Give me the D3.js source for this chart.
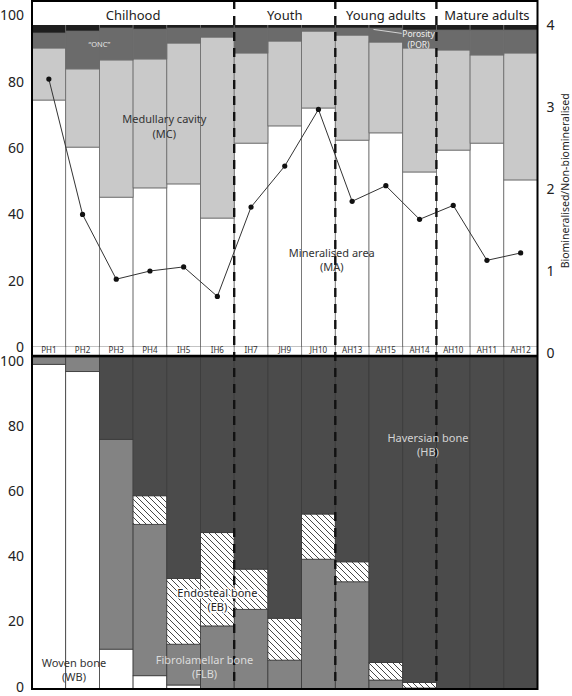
<!DOCTYPE html>
<html><head><meta charset="utf-8">
<script src="https://cdn.jsdelivr.net/npm/d3@7"></script>
<style>body{margin:0;background:#fff}svg{display:block;font-family:"Noto Sans",sans-serif}</style>
</head><body>
<svg id="c" width="572" height="696"></svg>
<script>
// ---- data ----
const categories = ["PH1","PH2","PH3","PH4","IH5","IH6","IH7","JH9","JH10","AH13","AH15","AH14","AH10","AH11","AH12"];
const phaseNames = ["Chilhood","Youth","Young adults","Mature adults"];
const phaseStart = ["PH1","IH7","AH13","AH10"];
const phaseEnd   = ["IH6","JH10","AH14","AH12"];
// top panel (% of cross-section)
const MA  = [74.5,60.3,45.2,48.0,49.2,38.9,61.5,66.7,72.1,62.4,64.6,52.8,59.4,61.5,50.4];
const MC  = [15.7,23.6,41.4,38.9,42.5,54.6,27.2,25.6,23.2,31.7,27.4,37.4,30.2,26.6,38.3];
const ONC = [4.5,11.4,9.6,9.0,4.5,2.7,7.5,3.9,0.9,2.1,4.2,5.4,6.0,7.5,6.9];
const POR = categories.map((c,i)=>100-MA[i]-MC[i]-ONC[i]);
// biomineralised / non-biomineralised ratio
const ratio = [3.34,1.69,0.90,1.00,1.05,0.69,1.78,2.28,2.97,1.85,2.04,1.63,1.80,1.13,1.22];
// bottom panel (% of bone tissue)
const WB  = [97.8,95.6,12.0,4.0,1.2,0,0,0,0,0,0,0,0,0,0];
const FLB = [2.2,4.4,63.2,45.6,12.3,19.0,24.0,8.7,39.1,32.3,2.7,0.3,0,0,0];
const EB  = [0,0,0,8.6,19.8,28.1,12.1,12.6,13.6,6.0,5.3,1.7,0,0,0];
const HB  = categories.map((c,i)=>100-WB[i]-FLB[i]-EB[i]);
const pctTicks = [0,20,40,60,80,100];
const ratioTicks = [0,1,2,3,4];

// ---- layout ----
const L = 32, R = 537.5, TOP = 1, HEAD = 25, MID = 356, BOT = 689;
const svg = d3.select("#c");
const x = d3.scaleBand().domain(categories).range([L, R]).padding(0);
const bw = x.bandwidth();
const yTop = d3.scaleLinear().domain([0,100]).range([347, 15.5]);
const yR = d3.scaleLinear().domain([0,4]).range([353, 25]);
const yBot = d3.scaleLinear().domain([0,100]).range([BOT, MID+1]);
const yBotAxis = yBot.copy().range([686.7, 360.7]);

const defs = svg.append("defs");
const pat = defs.append("pattern").attr("id","hatch").attr("patternUnits","userSpaceOnUse")
  .attr("width",6).attr("height",6);
pat.append("rect").attr("width",6).attr("height",6).attr("fill","#fff");
pat.append("path").attr("d","M-1,-1L7,7M-1,5L1,7M5,-1L7,1").attr("stroke","#333").attr("stroke-width",0.9);

// ---- top stacked bars ----
const topKeys = ["MA","MC","ONC","POR"];
const topColors = {MA:"#ffffff", MC:"#c9c9c9", ONC:"#6b6b6b", POR:"#1e1e1e"};
const topRows = categories.map((c,i)=>({cat:c, MA:MA[i], MC:MC[i], ONC:ONC[i], POR:POR[i]}));
const topStack = d3.stack().keys(topKeys)(topRows);
svg.append("g").selectAll("g").data(topStack).join("g")
  .attr("fill", d=>topColors[d.key])
  .selectAll("rect").data(d=>d).join("rect")
  .attr("x", d=>x(d.data.cat)).attr("width", bw)
  .attr("y", d=>yTop(d[1])).attr("height", d=>yTop(d[0])-yTop(d[1]))
  .attr("stroke","#6a6a6a").attr("stroke-width",0.8);

// category label strip
svg.append("rect").attr("x",L).attr("width",R-L).attr("y",yTop(0)).attr("height",MID-yTop(0)).attr("fill","#fff");
svg.append("g").selectAll("line").data(categories.slice(1)).join("line")
  .attr("x1",d=>x(d)).attr("x2",d=>x(d)).attr("y1",yTop(0)-1).attr("y2",MID)
  .attr("stroke","#6a6a6a").attr("stroke-width",0.8);
svg.append("g").selectAll("text").data(categories).join("text")
  .attr("x",d=>x(d)+bw/2).attr("y",353.2).attr("text-anchor","middle")
  .attr("font-size",8).attr("fill","#333").text(d=>d);

// header band
svg.append("rect").attr("x",L).attr("y",TOP).attr("width",R-L).attr("height",HEAD-TOP).attr("fill","#fff");
svg.append("g").selectAll("text").data(phaseNames).join("text")
  .attr("x",(d,i)=>(x(phaseStart[i]) + x(phaseEnd[i])+bw)/2)
  .attr("y",19.5).attr("text-anchor","middle").attr("font-size",13).attr("fill","#222").text(d=>d);

// ratio line
const lineGen = d3.line().x((d,i)=>x(categories[i])+bw/2).y(d=>yR(d));
svg.append("path").datum(ratio).attr("d",lineGen).attr("fill","none").attr("stroke","#333").attr("stroke-width",1);
svg.append("g").selectAll("circle").data(ratio).join("circle")
  .attr("cx",(d,i)=>x(categories[i])+bw/2).attr("cy",d=>yR(d)).attr("r",2.6).attr("fill","#111");

// ---- bottom stacked bars ----
const botKeys = ["WB","FLB","EB","HB"];
const botFill = {WB:"#ffffff", FLB:"#838383", EB:"url(#hatch)", HB:"#4b4b4b"};
const botRows = categories.map((c,i)=>({cat:c, WB:WB[i], FLB:FLB[i], EB:EB[i], HB:HB[i]}));
const botStack = d3.stack().keys(botKeys)(botRows);
svg.append("g").selectAll("g").data(botStack).join("g")
  .attr("fill", d=>botFill[d.key])
  .selectAll("rect").data(d=>d.filter(v=>v[1]-v[0]>0.01)).join("rect")
  .attr("x", d=>x(d.data.cat)).attr("width", bw)
  .attr("y", d=>yBot(d[1])).attr("height", d=>yBot(d[0])-yBot(d[1]))
  .attr("stroke","#3a3a3a").attr("stroke-width",0.8);

// ---- axes ----
const axL1 = svg.append("g").attr("transform",`translate(${L},0)`)
  .call(d3.axisLeft(yTop).tickValues(pctTicks).tickSize(0).tickPadding(8));
const axL2 = svg.append("g").attr("transform",`translate(${L},0)`)
  .call(d3.axisLeft(yBotAxis).tickValues(pctTicks).tickSize(0).tickPadding(8));
const axR = svg.append("g").attr("transform",`translate(${R},0)`)
  .call(d3.axisRight(yR).tickValues(ratioTicks).tickFormat(d3.format("d")).tickSize(0).tickPadding(9));
[axL1,axL2,axR].forEach(a=>{
  a.select(".domain").remove();
  a.selectAll("text").attr("font-size",14).attr("fill","#222").attr("font-family","'Noto Sans',sans-serif");
});
svg.append("text").attr("transform",`translate(569,${yR(2.1)}) rotate(-90)`)
  .attr("text-anchor","middle").attr("font-size",10.5).attr("fill","#222")
  .text("Biomineralised/Non-biomineralised");

// ---- phase dividers ----
svg.append("g").selectAll("line").data(phaseStart.slice(1)).join("line")
  .attr("x1",d=>x(d)).attr("x2",d=>x(d)).attr("y1",0).attr("y2",BOT)
  .attr("stroke","#111").attr("stroke-width",2.4).attr("stroke-dasharray","9,7");

// ---- annotations ----
function label(g, lines, cx, cy, size, fill, halo){
  const t = g.append("text").attr("text-anchor","middle").attr("font-size",size).attr("fill",fill);
  if(halo){ t.attr("stroke","#fff").attr("stroke-width",3).attr("paint-order","stroke").attr("stroke-linejoin","round"); }
  lines.forEach((s,k)=>t.append("tspan").attr("x",cx).attr("y",cy + k*size*1.3).text(s));
}
const ann = svg.append("g");
label(ann, ["\u201cONC\u201d"], x("PH2")+bw*1.0, yTop(90.5), 7.5, "#e6e6e6");
label(ann, ["Medullary cavity","(MC)"], x("IH5")-2.5, yTop(67.5), 11, "#333");
label(ann, ["Mineralised area","(MA)"], x("AH13")-3.5, yTop(27.1), 11, "#333");
label(ann, ["Porosity","(POR)"], x("AH14")+bw/2-1, yTop(93.4), 8.5, "#f0f0f0");
ann.append("line").attr("x1",x("AH15")+4.5).attr("y1",yTop(95.8)).attr("x2",x("AH14")-1).attr("y2",yTop(94.6))
  .attr("stroke","#eee").attr("stroke-width",0.8);
label(ann, ["Haversian bone","(HB)"], x("AH14")+bw*0.75, yBot(74.5), 11, "#d4d4d4");
label(ann, ["Endosteal bone","(EB)"], x("IH6")+bw/2, yBot(27.7), 11, "#222", true);
label(ann, ["Fibrolamellar bone","(FLB)"], x("IH6")+4, yBot(7.5), 11, "#dcdcdc");
label(ann, ["Woven bone","(WB)"], x("PH2")+8.3, yBot(6.7), 11, "#333");

// ---- frame ----
const fr = svg.append("g").attr("stroke","#000").attr("fill","none");
fr.append("line").attr("x1",L).attr("x2",L).attr("y1",0).attr("y2",BOT+1).attr("stroke-width",2);
fr.append("line").attr("x1",R).attr("x2",R).attr("y1",0).attr("y2",BOT+1).attr("stroke-width",2);
fr.append("line").attr("x1",L).attr("x2",R).attr("y1",TOP).attr("y2",TOP).attr("stroke-width",2);
fr.append("line").attr("x1",L).attr("x2",R).attr("y1",MID).attr("y2",MID).attr("stroke-width",2.7);
fr.append("line").attr("x1",L).attr("x2",R).attr("y1",BOT).attr("y2",BOT).attr("stroke-width",2);
</script>
</body></html>
